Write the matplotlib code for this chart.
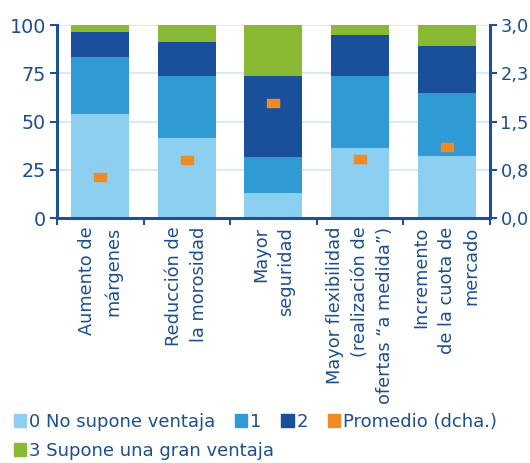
import numpy as np
import matplotlib
matplotlib.use("Agg")
import matplotlib.pyplot as plt
from matplotlib.patches import Patch

plt.rcParams['font.family'] = ['DejaVu Sans']

# data
categories = ["Aumento de\nmárgenes", "Reducción de\nla morosidad", "Mayor\nseguridad",
              "Mayor flexibilidad\n(realización de\nofertas “a medida”)",
              "Incremento\nde la cuota de\nmercado"]
v0 = [54.0, 41.7, 13.3, 36.5, 32.4]
v1 = [29.5, 31.9, 18.6, 37.1, 32.4]
v2 = [13.0, 17.6, 41.7, 21.4, 24.3]
v3 = [3.5, 8.8, 26.4, 5.0, 10.9]
promedio = [0.64, 0.90, 1.79, 0.92, 1.11]
right_ticks = [0, 0.75, 1.5, 2.25, 3.0]
right_labels = ["0,0", "0,8", "1,5", "2,3", "3,0"]

c_light = '#8dcff0'
c_mid = '#2f9ad3'
c_dark = '#1a4f9b'
c_green = '#8ab934'
c_orange = '#f08a24'
txt = '#1d4e8f'
axc = '#1f4f98'

fig = plt.figure(figsize=(5.3, 4.63), dpi=100)
ax = fig.add_axes([0.1075, 0.5285, 0.817, 0.4175])
x = np.arange(len(categories))
w = 0.67

ax.set_axisbelow(True)
ax.yaxis.grid(True, color='#cde8f6', linewidth=1.2)
bottom = np.zeros(len(x))
for vals, col in [(v0, c_light), (v1, c_mid), (v2, c_dark), (v3, c_green)]:
    ax.bar(x, vals, w, bottom=bottom, color=col, zorder=2)
    bottom += np.array(vals)

ax.set_xlim(-0.5, 4.5)
ax.set_ylim(0, 100)
ax.set_yticks([0, 25, 50, 75, 100])
ax.set_xticks(x)
ax.set_xticklabels(categories, rotation=90, ha='center', va='top', multialignment='right',
                   fontsize=12.8, color=txt, linespacing=1.5)
ax.set_xticks(np.arange(-0.5, 5, 1), minor=True)
ax.tick_params(axis='x', which='major', length=0, pad=6)
ax.tick_params(axis='x', which='minor', length=5, width=1.5, color=axc)
ax.tick_params(axis='y', length=5, width=1.5, color=axc, labelsize=13.8, labelcolor=txt, pad=3)
for s in ['top', 'right']:
    ax.spines[s].set_visible(False)
for s in ['left', 'bottom']:
    ax.spines[s].set_color(axc)
    ax.spines[s].set_linewidth(2.2)

ax2 = ax.twinx()
ax2.set_ylim(0, 3)
ax2.set_yticks(right_ticks)
ax2.set_yticklabels(right_labels)
ax2.tick_params(axis='y', length=5, width=1.5, color=axc, labelsize=12.8, labelcolor=txt, pad=2.5)
for s in ['top', 'left', 'bottom']:
    ax2.spines[s].set_visible(False)
ax2.spines['right'].set_color(axc)
ax2.spines['right'].set_linewidth(2.2)
rect = [(-1.4, -1), (1.4, -1), (1.4, 1), (-1.4, 1), (-1.4, -1)]
ax2.plot(x, promedio, linestyle='none', marker=rect, markersize=8, color=c_orange, zorder=3)

leg_kw = dict(frameon=False, fontsize=13, handlelength=0.68, handleheight=0.68,
              handletextpad=0.15, columnspacing=1.1, borderpad=0, borderaxespad=0,
              loc='center left')
leg1 = fig.legend([Patch(color=c_light), Patch(color=c_mid), Patch(color=c_dark),
                   Patch(color=c_orange)],
                  ["0 No supone ventaja", "1", "2", "Promedio (dcha.)"], ncol=4,
                  bbox_to_anchor=(14 / 530, 1 - 422 / 463), **leg_kw)
leg2 = fig.legend([Patch(color=c_green)], ["3 Supone una gran ventaja"],
                  bbox_to_anchor=(14 / 530, 1 - 451 / 463), **leg_kw)
for lg in (leg1, leg2):
    for t in lg.get_texts():
        t.set_color(txt)

fig.savefig('out.png', dpi=100)
